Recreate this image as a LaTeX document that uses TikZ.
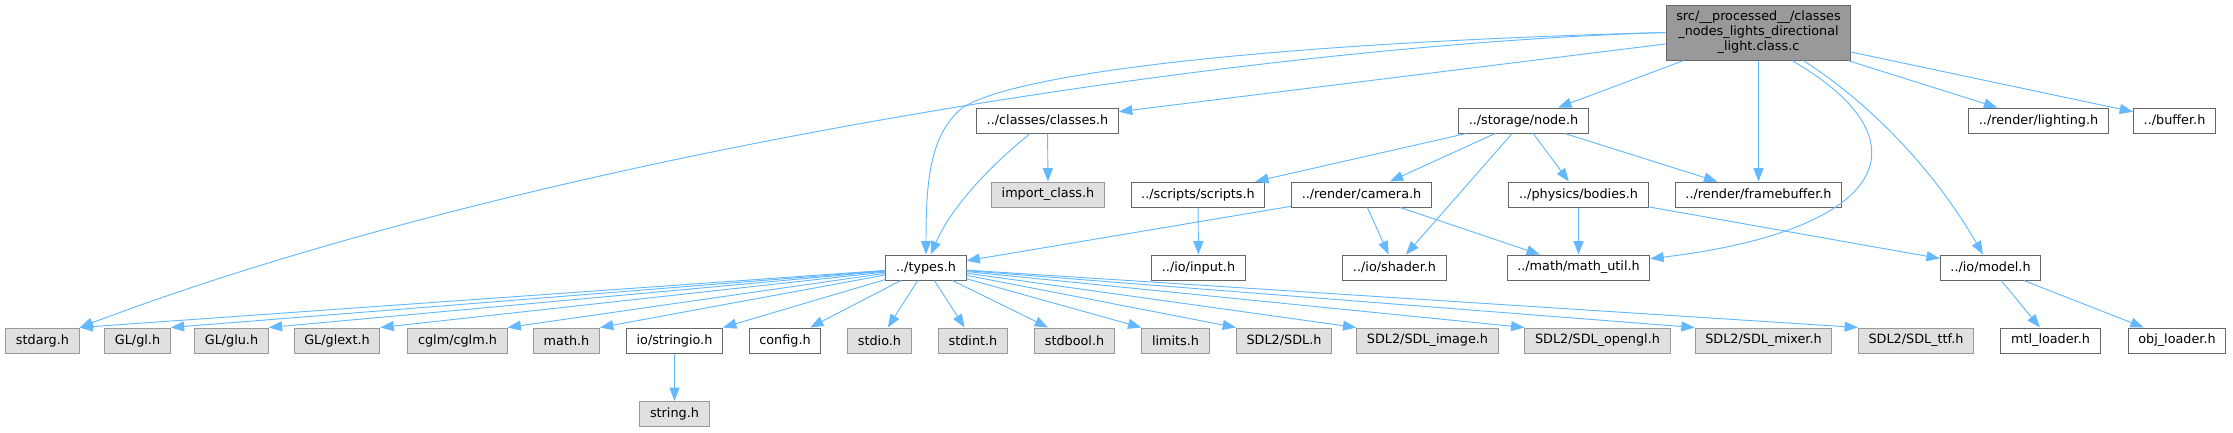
\documentclass[tikz,border=0pt]{standalone}
\usepackage{fontspec}
\setmainfont{DejaVu Sans}
\usetikzlibrary{arrows.meta}
\definecolor{edgeblue}{HTML}{63B8FF}
\definecolor{sysfill}{HTML}{E0E0E0}
\definecolor{sysline}{HTML}{999999}
\definecolor{hdrline}{HTML}{666666}
\definecolor{srcfill}{HTML}{999999}
\begin{document}
\begin{tikzpicture}[x=0.75pt,y=-0.75pt,
	box/.style={draw,line width=0.75pt,font=\fontsize{9.6}{11.25}\selectfont,inner xsep=7.6pt,inner ysep=0pt,minimum height=18.75pt},
	hdr/.style={box,draw=hdrline,fill=white},
	sys/.style={box,draw=sysline,fill=sysfill},
	src/.style={box,draw=hdrline,fill=srcfill,align=center,minimum height=41.25pt},
	inc/.style={draw=edgeblue,line width=0.7pt,-{Triangle[length=10pt,width=7.5pt]}}]
	\useasboundingbox (0,0) rectangle (2233,432);
	% row 1
	\node[src] (src) at (1758.5,32.5) {src/\_\_processed\_\_/classes\\\_nodes\_lights\_directional\\\_light.class.c};
	% row 2
	\node[hdr] (classes) at (1047.5,120.5) {../classes/classes.h};
	\node[hdr] (storagenode) at (1523.5,120.5) {../storage/node.h};
	\node[hdr] (lighting) at (2038.5,120.5) {../render/lighting.h};
	\node[hdr] (buffer) at (2174.5,120.5) {../buffer.h};
	% row 3
	\node[sys] (importclass) at (1048,194.5) {import\_class.h};
	\node[hdr] (scripts) at (1198,194.5) {../scripts/scripts.h};
	\node[hdr] (camera) at (1361.5,194.5) {../render/camera.h};
	\node[hdr] (bodies) at (1578.5,194.5) {../physics/bodies.h};
	\node[hdr] (framebuffer) at (1758.5,194.5) {../render/framebuffer.h};
	% row 4
	\node[hdr] (types) at (926,267.5) {../types.h};
	\node[hdr] (input) at (1198.5,267.5) {../io/input.h};
	\node[hdr] (shader) at (1394.5,267.5) {../io/shader.h};
	\node[hdr] (mathutil) at (1578.5,267.5) {../math/math\_util.h};
	\node[hdr] (model) at (1990.5,267.5) {../io/model.h};
	% row 5
	\node[sys] (stdarg) at (42.5,340.5) {stdarg.h};
	\node[sys] (gl) at (137.5,340.5) {GL/gl.h};
	\node[sys] (glu) at (231.5,340.5) {GL/glu.h};
	\node[sys] (glext) at (337,340.5) {GL/glext.h};
	\node[sys] (cglm) at (457.5,340.5) {cglm/cglm.h};
	\node[sys] (math) at (566.5,340.5) {math.h};
	\node[hdr] (stringio) at (674.5,340.5) {io/stringio.h};
	\node[hdr] (config) at (785,340.5) {config.h};
	\node[sys] (stdio) at (879.5,340.5) {stdio.h};
	\node[sys] (stdint) at (973,340.5) {stdint.h};
	\node[sys] (stdbool) at (1074.5,340.5) {stdbool.h};
	\node[sys] (limits) at (1175.5,340.5) {limits.h};
	\node[sys] (sdl) at (1284,340.5) {SDL2/SDL.h};
	\node[sys] (sdlimage) at (1427.5,340.5) {SDL2/SDL\_image.h};
	\node[sys] (sdlopengl) at (1597.5,340.5) {SDL2/SDL\_opengl.h};
	\node[sys] (sdlmixer) at (1763.5,340.5) {SDL2/SDL\_mixer.h};
	\node[sys] (sdlttf) at (1916,340.5) {SDL2/SDL\_ttf.h};
	\node[hdr] (mtlloader) at (2050.5,340.5) {mtl\_loader.h};
	\node[hdr] (objloader) at (2177,340.5) {obj\_loader.h};
	% row 6
	\node[sys] (string) at (674.5,414) {string.h};
	% includes of the source file
	\draw[inc] (src.west) .. controls (1250,45) and (550,150) .. (stdarg.north east);
	\draw[inc] (src.west) .. controls (1300,42) and (1020,70) .. (962,108) .. controls (930,135) and (926,180) .. (types.north);
	\draw[inc] (src) -- (classes);
	\draw[inc] (src) -- (storagenode);
	\draw[inc] (src) -- (framebuffer);
	\draw[inc] (src.-40) .. controls (1930,140) and (1890,230) .. (mathutil.7);
	\draw[inc] (src.-32) .. controls (1880,110) and (1940,180) .. (model);
	\draw[inc] (src) -- (lighting);
	\draw[inc] (src) -- (buffer);
	% second level
	\draw[inc] (classes) -- (importclass);
	\draw[inc] (classes.-143) .. controls (985,170) and (950,210) .. (types.70);
	\foreach \n in {scripts,camera,shader,bodies,framebuffer}
		\draw[inc] (storagenode) -- (\n);
	\draw[inc] (scripts) -- (input);
	\foreach \n in {types,shader,mathutil}
		\draw[inc] (camera) -- (\n);
	\draw[inc] (bodies) -- (mathutil);
	\draw[inc] (bodies) -- (model);
	\draw[inc] (model) -- (mtlloader);
	\draw[inc] (model) -- (objloader);
	% types.h
	\foreach \n in {gl,glu,glext,cglm,math,stringio}
		\draw[inc] (types) -- (\n.north east);
	\foreach \n in {config,stdio,stdint,stdbool}
		\draw[inc] (types) -- (\n);
	\foreach \n in {limits,sdl,sdlimage,sdlopengl,sdlmixer,sdlttf}
		\draw[inc] (types) -- (\n.north west);
	\draw[inc] (types) -- (stdarg.north east);
	\draw[inc] (stringio) -- (string);
\end{tikzpicture}
\end{document}
